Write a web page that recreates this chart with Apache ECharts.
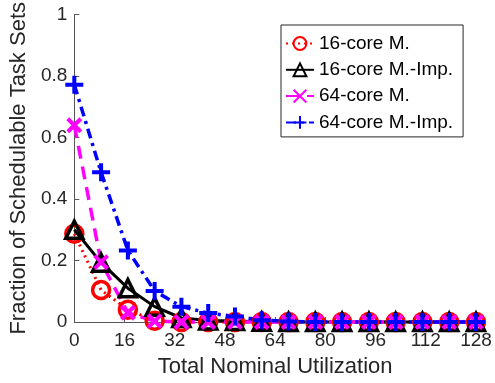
<!DOCTYPE html>
<html><head><meta charset="utf-8">
<script src="https://cdn.jsdelivr.net/npm/echarts@6/dist/echarts.min.js"></script>
<style>html,body{margin:0;padding:0;background:#fff}#c{width:495px;height:383px}</style>
</head><body><div id="c"></div>
<script>
const xValues = [0, 8.53, 17.07, 25.6, 34.13, 42.67, 51.2, 59.73, 68.27, 76.8, 85.33, 93.87, 102.4, 110.93, 119.47, 128];
const core16M = [0.287, 0.104, 0.04, 0.004, 0, 0, 0, 0, 0, 0, 0, 0, 0, 0, 0, 0];
const core16MImp = [0.30, 0.193, 0.11, 0.05, 0.013, 0.005, 0.003, 0.001, 0, 0, 0, 0, 0, 0, 0, 0];
const core64M = [0.64, 0.195, 0.03, 0.003, 0, 0, 0, 0, 0, 0, 0, 0, 0, 0, 0, 0];
const core64MImp = [0.772, 0.487, 0.233, 0.101, 0.05, 0.029, 0.018, 0.006, 0.002, 0, 0, 0, 0, 0, 0, 0];
const seriesNames = ['16-core M.', '16-core M.-Imp.', '64-core M.', '64-core M.-Imp.'];
const xTicks = [0, 16, 32, 48, 64, 80, 96, 112, 128];

const pair = arr => xValues.map((x, i) => [x, arr[i]]);
const font = 'Liberation Sans, Arial, Helvetica, sans-serif';
const txt = '#262626';

function mk(name, data, color, symbol, size, dash, width, bw) {
  return {
    name, type: 'line', data: pair(data), clip: false,
    symbol, symbolSize: size,
    lineStyle: { color, width, type: dash },
    itemStyle: { color: symbol.startsWith('path') ? color : 'rgba(0,0,0,0)', borderColor: color, borderWidth: bw },
    emphasis: { disabled: true }
  };
}

const chart = echarts.init(document.getElementById('c'));
chart.setOption({
  animation: false,
  textStyle: { fontFamily: font },
  grid: { left: 74, right: 19, top: 14, bottom: 59 },
  legend: {
    orient: 'vertical', left: 281, top: 25,
    padding: [9, 10, 5, 4], itemGap: 7.3, itemWidth: 28, itemHeight: 16,
    borderColor: '#262626', borderWidth: 1, backgroundColor: '#fff',
    textStyle: { fontSize: 19, color: '#000', fontFamily: font, lineHeight: 16 },
    data: seriesNames
  },
  xAxis: {
    type: 'value', min: 0, max: 128, interval: 16,
    name: 'Total Nominal Utilization', nameLocation: 'middle', nameGap: 34,
    nameTextStyle: { fontSize: 22, color: txt, fontFamily: font },
    axisLine: { lineStyle: { color: '#555', width: 1 } },
    axisTick: { inside: true, length: 5, lineStyle: { color: '#555' } },
    axisLabel: { fontSize: 19, color: txt, margin: 9, fontFamily: font, formatter: v => xTicks.includes(v) ? String(v) : '' },
    splitLine: { show: false }
  },
  yAxis: {
    type: 'value', min: 0, max: 1, interval: 0.2,
    name: 'Fraction of Schedulable Task Sets', nameLocation: 'middle', nameGap: 38,
    nameTextStyle: { fontSize: 22, color: txt, fontFamily: font },
    axisLine: { show: true, lineStyle: { color: '#555', width: 1 } },
    axisTick: { show: true, inside: true, length: 5, lineStyle: { color: '#555' } },
    axisLabel: { fontSize: 19, color: txt, margin: 7, fontFamily: font, formatter: v => String(Math.round(v * 10) / 10) },
    splitLine: { show: false }
  },
  series: [
    mk(seriesNames[0], core16M, '#ff0000', 'circle', 17, [2, 4], 3, 3.5),
    mk(seriesNames[1], core16MImp, '#000000', 'triangle', 17, 'solid', 3, 3.5),
    mk(seriesNames[2], core64M, '#ff00ff', 'path://M0,0L10,10M10,0L0,10', 13, [13, 8], 3.5, 4),
    mk(seriesNames[3], core64MImp, '#0000ff', 'path://M5,0L5,10M0,5L10,5', 18, [10, 5, 3, 5], 3.5, 4)
  ]
});
</script></body></html>
